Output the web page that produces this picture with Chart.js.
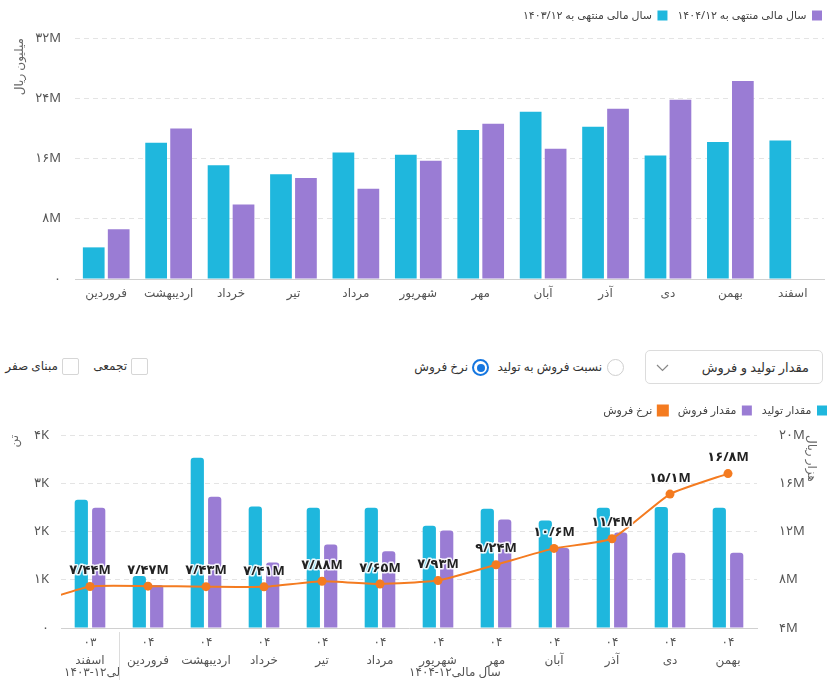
<!DOCTYPE html>
<html>
<head>
<meta charset="utf-8">
<script src="https://cdn.jsdelivr.net/npm/chart.js@4"></script>
<style>
  html, body { margin:0; padding:0; background:#fff; }
  body { width:832px; height:682px; position:relative; overflow:hidden;
         font-family:'Noto Sans','DejaVu Sans',sans-serif; color:#333; }
  .abs { position:absolute; }
  .lbl { position:absolute; font-size:12px; line-height:18px; direction:rtl; white-space:nowrap; color:#333; }
  .box { position:absolute; width:17px; height:17px; border:1px solid #d6d6d6; border-radius:2px; box-sizing:border-box; }
  .radio { position:absolute; width:17px; height:17px; border:1px solid #cfcfcf; border-radius:50%; box-sizing:border-box; }
  .radio.on { border:2px solid #1677e0; }
  .radio.on::after { content:''; position:absolute; left:2.5px; top:2.5px; width:8px; height:8px; border-radius:50%; background:#1677e0; }
  .select { position:absolute; left:645px; top:350px; width:178px; height:34px; border:1px solid #dcdcdc;
            border-radius:5px; box-sizing:border-box; }
</style>
</head>
<body>
<canvas id="top" class="abs" width="832" height="310" style="left:0;top:0"></canvas>

<div class="select">
  <span class="lbl" style="right:13px;top:7px;font-size:13px">مقدار تولید و فروش</span>
  <svg class="abs" style="left:10px;top:13px" width="13" height="8" viewBox="0 0 13 8">
    <polyline points="1,1 6.5,6.5 12,1" fill="none" stroke="#888" stroke-width="1.2"/>
  </svg>
</div>
<div class="radio" style="left:607px;top:359px"></div>
<span class="lbl" style="right:230px;top:358px">نسبت فروش به تولید</span>
<div class="radio on" style="left:472px;top:359px"></div>
<span class="lbl" style="right:364px;top:358px">نرخ فروش</span>
<div class="box" style="left:131px;top:358px"></div>
<span class="lbl" style="right:705px;top:357px">تجمعی</span>
<div class="box" style="left:62px;top:358px"></div>
<span class="lbl" style="right:774px;top:357px">مبنای صفر</span>

<canvas id="bottom" class="abs" width="832" height="287" style="left:0;top:395px"></canvas>

<script>
// ── داده‌ها ─────────────────────────────────────────
var MONTHS = ['فروردین','اردیبهشت','خرداد','تیر','مرداد','شهریور','مهر','آبان','آذر','دی','بهمن','اسفند'];
// میلیون ریال
var SALES_1403 = [4.2, 18.1, 15.1, 13.9, 16.8, 16.5, 19.8, 22.2, 20.2, 16.4, 18.2, 18.4];
var SALES_1404 = [6.6, 20.0, 9.9, 13.4, 12.0, 15.7, 20.6, 17.3, 22.6, 23.8, 26.3, null];
var TOP_TICKS  = [0, 8, 16, 24, 32];

// نمودار پایین: اولین دوره (بهمن ۰۳) فقط برای ادامهٔ خط، خارج از محور
var PERIOD_YEAR  = ['۰۳','۰۳','۰۴','۰۴','۰۴','۰۴','۰۴','۰۴','۰۴','۰۴','۰۴','۰۴','۰۴'];
var PERIOD_MONTH = ['بهمن','اسفند','فروردین','اردیبهشت','خرداد','تیر','مرداد','شهریور','مهر','آبان','آذر','دی','بهمن'];
// هزار تن
var PROD = [null, 2.66, 1.08, 3.53, 2.52, 2.49, 2.49, 2.12, 2.47, 2.23, 2.49, 2.51, 2.49];
var SOLD = [null, 2.49, 0.89, 2.72, 1.36, 1.73, 1.59, 2.02, 2.25, 1.66, 1.98, 1.56, 1.56];
// میلیون ریال (نرخ فروش)
var RATE = [6.0, 7.44, 7.47, 7.43, 7.41, 7.88, 7.65, 7.93, 9.24, 10.6, 11.4, 15.1, 16.8];
var GROUPS = [
  { text:'سال مالی۱۲-۱۴۰۳', from:1, to:1 },
  { text:'سال مالی۱۲-۱۴۰۴', from:2, to:12 }
];

var CYAN   = '#1fb7dd';
var PURPLE = '#9a7cd4';
var ORANGE = '#f47b20';
var FONT   = "'Noto Sans','DejaVu Sans',sans-serif";

Chart.defaults.font.family = FONT;
Chart.defaults.color = '#555';

function fa(s) {
  return String(s).replace(/\d/g, function (d) { return '۰۱۲۳۴۵۶۷۸۹'[d]; }).replace(/\./g, '/');
}

// فاصلهٔ اضافه زیر راهنما و جابه‌جایی افقی آن
function legendTweak(gap, shift) {
  return {
    id: 'legendTweak',
    beforeInit: function (chart) {
      var fit = chart.legend.fit;
      chart.legend.fit = function () { fit.call(this); this.height += gap; };
    },
    afterLayout: function (chart) { chart.legend.left += shift; }
  };
}

// ── نمودار بالا ─────────────────────────────────────
new Chart(document.getElementById('top'), {
  type: 'bar',
  data: {
    labels: MONTHS,
    datasets: [
      { label:'سال مالی منتهی به ۱۴۰۳/۱۲', data:SALES_1403, backgroundColor:CYAN },
      { label:'سال مالی منتهی به ۱۴۰۴/۱۲', data:SALES_1404, backgroundColor:PURPLE }
    ]
  },
  plugins: [legendTweak(7, 8)],
  options: {
    responsive:false, animation:false,
    layout: { padding:{ right:8, top:0 } },
    datasets: { bar:{ categoryPercentage:0.8, barPercentage:0.87 } },
    plugins: {
      tooltip: { enabled:false },
      legend: {
        position:'top', align:'start', rtl:true, reverse:true,
        labels: { boxWidth:10, boxHeight:10, padding:10, color:'#444', font:{ size:11 } }
      }
    },
    scales: {
      x: {
        afterFit: function (s) { s.height = 31; },
        grid: { display:false, drawTicks:false },
        border: { color:'#d0d0d0' },
        ticks: { color:'#555', font:{ size:12 }, padding:7 }
      },
      y: {
        min: TOP_TICKS[0], max: TOP_TICKS[TOP_TICKS.length - 1],
        afterBuildTicks: function (s) { s.ticks = TOP_TICKS.map(function (v) { return { value:v }; }); },
        afterFit: function (s) { s.width = 75; },
        grid: { color:'#e4e4e4', drawTicks:false },
        border: { display:false, dash:[5,4] },
        ticks: { padding:14, color:'#555', font:{ size:13 },
                 callback: function (v) { return v ? fa(v) + 'M' : '۰'; } },
        title: { display:true, text:'میلیون ریال', align:'end', color:'#666', font:{ size:12 }, padding:{ top:12, bottom:0 } }
      }
    }
  }
});

// ── پلاگین برچسب‌ها و گروه‌های محور افقی ────────────
var extrasPlugin = {
  id: 'extras',
  afterDatasetsDraw: function (chart) {
    var ctx = chart.ctx;
    var meta = chart.getDatasetMeta(2);
    ctx.save();
    ctx.font = "bold 13px " + FONT;
    ctx.textAlign = 'center';
    ctx.textBaseline = 'middle';
    ctx.lineJoin = 'round';
    meta.data.forEach(function (pt, i) {
      if (i < 1) return;
      var t = fa(RATE[i].toPrecision(3)) + 'M';
      ctx.strokeStyle = 'rgba(255,255,255,0.9)';
      ctx.lineWidth = 3;
      ctx.strokeText(t, pt.x, pt.y - 16);
      ctx.fillStyle = '#222';
      ctx.fillText(t, pt.x, pt.y - 16);
    });
    ctx.restore();
  },
  afterDraw: function (chart) {
    var ctx = chart.ctx, x = chart.scales.x, area = chart.chartArea;
    var half = (x.getPixelForValue(2) - x.getPixelForValue(1)) / 2;
    var y = chart.height - 9;
    ctx.save();
    GROUPS.forEach(function (g, k) {
      var l = x.getPixelForValue(g.from) - half;
      var r = x.getPixelForValue(g.to) + half;
      ctx.save();
      ctx.beginPath();
      ctx.rect(l, area.bottom, r - l, chart.height - area.bottom);
      ctx.clip();
      ctx.font = '12px ' + FONT;
      ctx.fillStyle = '#555';
      ctx.textBaseline = 'middle';
      if (k === 0) {
        ctx.textAlign = 'left';
        ctx.fillText(g.text, l + 3, y);
      } else {
        ctx.textAlign = 'center';
        ctx.direction = 'rtl';
        ctx.fillText(g.text, (l + r) / 2 + 17, y);
      }
      ctx.restore();
      if (k > 0) {
        ctx.strokeStyle = '#dcdcdc';
        ctx.lineWidth = 1;
        ctx.beginPath();
        ctx.moveTo(Math.round(l) + 0.5, area.bottom + 4);
        ctx.lineTo(Math.round(l) + 0.5, chart.height - 2);
        ctx.stroke();
      }
    });
    ctx.restore();
  }
};

// ── نمودار پایین ────────────────────────────────────
new Chart(document.getElementById('bottom'), {
  type: 'bar',
  data: {
    labels: PERIOD_MONTH.map(function (m, i) { return [PERIOD_YEAR[i], m]; }),
    datasets: [
      { label:'مقدار تولید', data:PROD, backgroundColor:CYAN, yAxisID:'y', order:2,
        borderRadius:3, categoryPercentage:0.6, barPercentage:0.76 },
      { label:'مقدار فروش', data:SOLD, backgroundColor:PURPLE, yAxisID:'y', order:3,
        borderRadius:3, categoryPercentage:0.6, barPercentage:0.76 },
      { type:'line', label:'نرخ فروش', data:RATE, yAxisID:'y1', order:1,
        borderColor:ORANGE, backgroundColor:ORANGE, borderWidth:2, tension:0.15,
        pointRadius:4.5, pointBackgroundColor:ORANGE, pointBorderWidth:0 }
    ]
  },
  plugins: [extrasPlugin, legendTweak(9, 5)],
  options: {
    responsive:false, animation:false,
    layout: { padding:{ top:0 } },
    plugins: {
      tooltip: { enabled:false },
      legend: {
        position:'top', align:'start', rtl:true,
        labels: { boxWidth:10, boxHeight:10, padding:10, color:'#444', font:{ size:11 },
                  sort: function (a, b) { return a.datasetIndex - b.datasetIndex; } }
      }
    },
    scales: {
      x: {
        min: 1,
        afterFit: function (s) { s.height = 54; },
        grid: { display:false, drawTicks:false },
        border: { color:'#d0d0d0' },
        ticks: { color:'#555', font:{ size:12, lineHeight:1.55 }, padding:5, maxRotation:0, autoSkip:false }
      },
      y: {
        position:'left', min:0, max:4,
        afterFit: function (s) { s.width = 61; },
        grid: { color:'#e4e4e4', drawTicks:false },
        border: { display:false, dash:[5,4] },
        ticks: { stepSize:1, padding:12, color:'#555', font:{ size:13 },
                 callback: function (v) { return v ? fa(v) + 'K' : '۰'; } },
        title: { display:true, text:'تن', align:'end', color:'#666', font:{ size:12 }, padding:{ top:7, bottom:0 } }
      },
      y1: {
        position:'right', min:4, max:20,
        afterFit: function (s) { s.width = 75; },
        grid: { display:false },
        border: { display:false },
        ticks: { stepSize:4, padding:14, color:'#555', font:{ size:13 },
                 callback: function (v) { return fa(v) + 'M'; } },
        title: { display:true, text:'هزار ریال', align:'end', color:'#666', font:{ size:12 }, padding:{ top:13, bottom:0 } }
      }
    }
  }
});
</script>
</body>
</html>
